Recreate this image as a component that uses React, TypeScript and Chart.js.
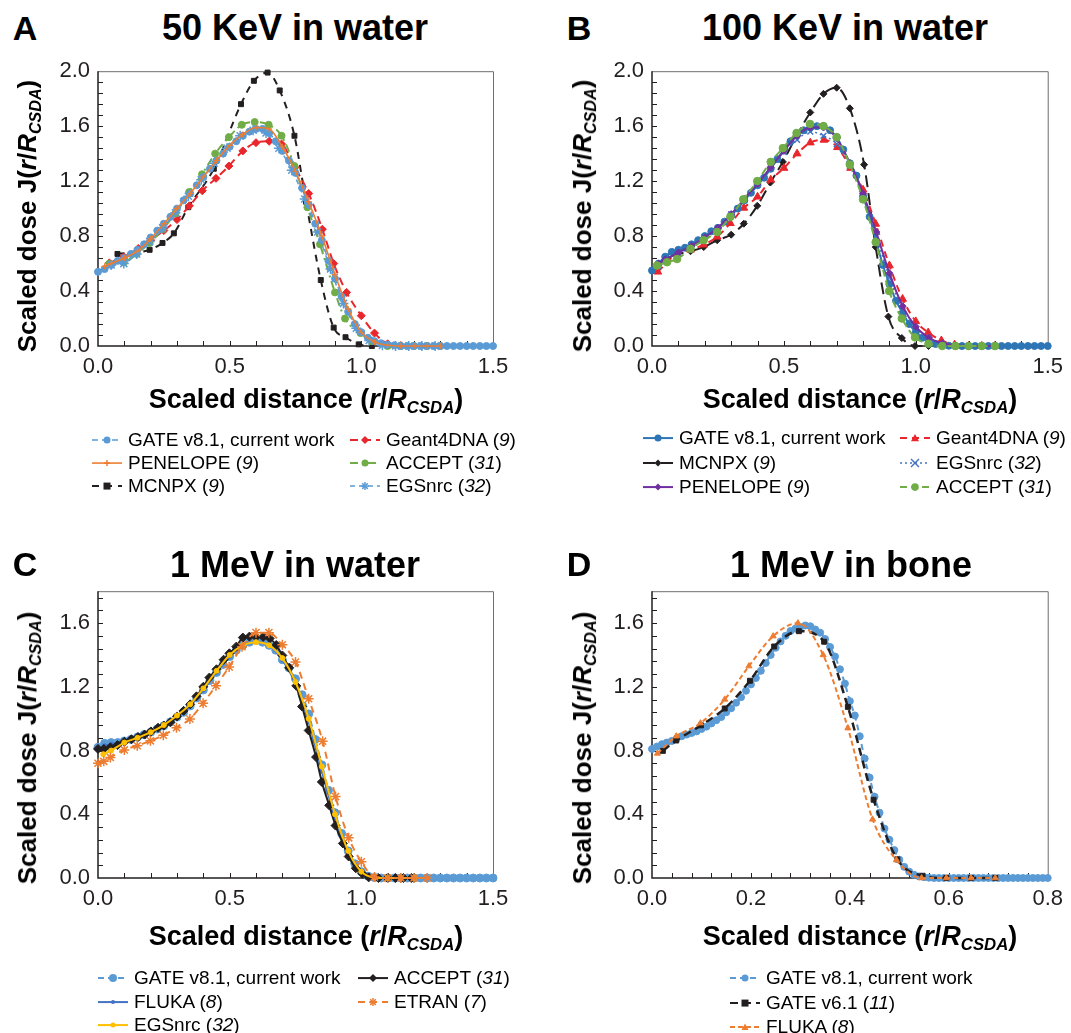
import React, { useEffect, useRef } from "react";
import { Chart, registerables } from "chart.js";

Chart.register(...registerables);

const FONT = '"Liberation Sans", Arial, Helvetica, sans-serif';
const INK = "#231F20";

// ---------- tick labels ----------
const X_TICKS_WATER = [0, 0.5, 1.0, 1.5];
const X_TICKS_BONE = [0, 0.2, 0.4, 0.6, 0.8];
const Y_TICKS_KEV = [0, 0.4, 0.8, 1.2, 1.6, 2.0];
const Y_TICKS_MEV = [0, 0.4, 0.8, 1.2, 1.6];

// ---------- shared x grids ----------
const X_DENSE_15 = [0, 0.025, 0.05, 0.075, 0.1, 0.125, 0.15, 0.175, 0.2, 0.225, 0.25, 0.275, 0.3, 0.325, 0.35, 0.375, 0.4, 0.425, 0.45, 0.475, 0.5, 0.525, 0.55, 0.575, 0.6, 0.625, 0.65, 0.675, 0.7, 0.725, 0.75, 0.775, 0.8, 0.825, 0.85, 0.875, 0.9, 0.925, 0.95, 0.975, 1.0, 1.025, 1.05, 1.075, 1.1, 1.125, 1.15, 1.175, 1.2, 1.225, 1.25, 1.275, 1.3, 1.325, 1.35, 1.375, 1.4, 1.425, 1.45, 1.475, 1.5];
const X_DENSE_08 = [0, 0.01, 0.02, 0.03, 0.04, 0.05, 0.06, 0.07, 0.08, 0.09, 0.1, 0.11, 0.12, 0.13, 0.14, 0.15, 0.16, 0.17, 0.18, 0.19, 0.2, 0.21, 0.22, 0.23, 0.24, 0.25, 0.26, 0.27, 0.28, 0.29, 0.3, 0.31, 0.32, 0.33, 0.34, 0.35, 0.36, 0.37, 0.38, 0.39, 0.4, 0.41, 0.42, 0.43, 0.44, 0.45, 0.46, 0.47, 0.48, 0.49, 0.5, 0.51, 0.52, 0.53, 0.54, 0.55, 0.56, 0.57, 0.58, 0.59, 0.6, 0.61, 0.62, 0.63, 0.64, 0.65, 0.66, 0.67, 0.68, 0.69, 0.7, 0.71, 0.72, 0.73, 0.74, 0.75, 0.76, 0.77, 0.78, 0.79, 0.8];
const X_STEP05 = [0.025, 0.05, 0.1, 0.15, 0.2, 0.25, 0.3, 0.35, 0.4, 0.45, 0.5, 0.55, 0.6, 0.65, 0.7, 0.75, 0.8, 0.85, 0.9, 0.95, 1.0, 1.05, 1.1, 1.15, 1.2, 1.25, 1.3];

// ---------- Panel A: 50 keV in water ----------
const A_GATE_Y = [0.54, 0.56, 0.59, 0.62, 0.64, 0.67, 0.70, 0.74, 0.79, 0.84, 0.89, 0.94, 1.00, 1.06, 1.11, 1.17, 1.23, 1.29, 1.35, 1.40, 1.45, 1.49, 1.53, 1.56, 1.58, 1.58, 1.55, 1.49, 1.42, 1.35, 1.26, 1.15, 1.03, 0.89, 0.77, 0.62, 0.49, 0.36, 0.25, 0.16, 0.10, 0.06, 0.035, 0.02, 0.01, 0.005, 0, 0, 0, 0, 0, 0, 0, 0, 0, 0, 0, 0, 0, 0, 0];
const A_PEN_Y = [0.58, 0.60, 0.64, 0.69, 0.78, 0.89, 1.00, 1.11, 1.23, 1.35, 1.46, 1.54, 1.59, 1.58, 1.45, 1.27, 1.05, 0.80, 0.52, 0.27, 0.10, 0.03, 0.005, 0, 0, 0, 0];
const A_MCNPX_X = [0.074, 0.196, 0.245, 0.288, 0.343, 0.44, 0.543, 0.592, 0.644, 0.69, 0.746, 0.79, 0.846, 0.895, 0.94, 0.99, 1.04];
const A_MCNPX_Y = [0.67, 0.70, 0.75, 0.82, 1.01, 1.29, 1.76, 1.93, 1.99, 1.86, 1.53, 1.05, 0.48, 0.134, 0.064, 0.012, 0];
const A_G4_X = [0.043, 0.098, 0.153, 0.20, 0.25, 0.30, 0.347, 0.396, 0.448, 0.497, 0.55, 0.60, 0.65, 0.697, 0.748, 0.80, 0.852, 0.895, 0.944, 1.0, 1.05, 1.10, 1.15, 1.2, 1.25, 1.3];
const A_G4_Y = [0.605, 0.65, 0.71, 0.77, 0.84, 0.92, 1.02, 1.13, 1.22, 1.31, 1.42, 1.48, 1.49, 1.47, 1.30, 1.11, 0.85, 0.60, 0.39, 0.22, 0.094, 0.016, 0.003, 0, 0, 0];
const A_ACC_X = [0.043, 0.098, 0.147, 0.196, 0.245, 0.294, 0.346, 0.395, 0.445, 0.497, 0.546, 0.595, 0.648, 0.697, 0.746, 0.795, 0.843, 0.90, 0.938, 0.997, 1.04, 1.10, 1.15, 1.2, 1.25, 1.3];
const A_ACC_Y = [0.60, 0.61, 0.67, 0.75, 0.85, 0.965, 1.12, 1.25, 1.40, 1.52, 1.61, 1.63, 1.61, 1.53, 1.31, 1.01, 0.74, 0.39, 0.20, 0.094, 0.035, 0, 0, 0, 0, 0];
const A_EGS_X = [0.05, 0.098, 0.147, 0.196, 0.245, 0.294, 0.343, 0.392, 0.441, 0.49, 0.54, 0.589, 0.638, 0.687, 0.736, 0.785, 0.834, 0.883, 0.932, 0.981, 1.03, 1.08, 1.13, 1.18, 1.23, 1.28];
const A_EGS_Y = [0.59, 0.60, 0.67, 0.76, 0.86, 0.97, 1.09, 1.21, 1.33, 1.44, 1.53, 1.57, 1.55, 1.44, 1.28, 1.07, 0.83, 0.56, 0.31, 0.13, 0.04, 0.005, 0, 0, 0, 0];

// ---------- Panel B: 100 keV in water ----------
const B_GATE_Y = [0.55, 0.60, 0.65, 0.685, 0.70, 0.715, 0.74, 0.77, 0.80, 0.835, 0.86, 0.905, 0.95, 1.00, 1.06, 1.115, 1.17, 1.225, 1.29, 1.36, 1.43, 1.49, 1.54, 1.57, 1.59, 1.60, 1.60, 1.57, 1.52, 1.43, 1.33, 1.24, 1.09, 0.94, 0.76, 0.59, 0.45, 0.33, 0.24, 0.16, 0.10, 0.06, 0.033, 0.015, 0.006, 0.002, 0, 0, 0, 0, 0, 0, 0, 0, 0, 0, 0, 0, 0, 0, 0];
const B_MCNPX_X = [0.02, 0.06, 0.095, 0.146, 0.196, 0.247, 0.30, 0.348, 0.399, 0.449, 0.496, 0.548, 0.60, 0.65, 0.70, 0.75, 0.804, 0.848, 0.896, 0.947, 0.997, 1.048];
const B_MCNPX_Y = [0.58, 0.64, 0.667, 0.69, 0.72, 0.77, 0.81, 0.89, 1.02, 1.19, 1.34, 1.53, 1.70, 1.835, 1.88, 1.73, 1.32, 0.72, 0.214, 0.058, 0, 0];
const B_G4_X = [0.022, 0.095, 0.146, 0.196, 0.247, 0.297, 0.348, 0.40, 0.45, 0.50, 0.55, 0.60, 0.652, 0.703, 0.753, 0.80, 0.848, 0.90, 0.95, 1.0, 1.047, 1.097, 1.147, 1.2, 1.25, 1.3];
const B_G4_Y = [0.54, 0.672, 0.70, 0.737, 0.795, 0.893, 1.005, 1.086, 1.21, 1.295, 1.40, 1.48, 1.50, 1.446, 1.295, 1.137, 0.888, 0.586, 0.342, 0.179, 0.098, 0.04, 0.01, 0, 0, 0];
const B_PEN_Y = [0.60, 0.63, 0.68, 0.73, 0.79, 0.86, 0.96, 1.07, 1.18, 1.30, 1.42, 1.53, 1.59, 1.59, 1.51, 1.33, 1.11, 0.83, 0.53, 0.29, 0.14, 0.06, 0.02, 0.005, 0, 0, 0];
const B_EGS_Y = [0.58, 0.62, 0.68, 0.73, 0.79, 0.86, 0.96, 1.07, 1.18, 1.30, 1.41, 1.50, 1.56, 1.53, 1.47, 1.31, 1.09, 0.80, 0.50, 0.26, 0.11, 0.04, 0.01, 0, 0, 0, 0];
const B_ACC_X = [0.019, 0.057, 0.095, 0.146, 0.196, 0.247, 0.297, 0.346, 0.399, 0.45, 0.496, 0.548, 0.599, 0.65, 0.70, 0.75, 0.80, 0.848, 0.899, 0.947, 0.997, 1.048, 1.1, 1.15, 1.2, 1.25, 1.3];
const B_ACC_Y = [0.586, 0.61, 0.633, 0.707, 0.77, 0.83, 0.94, 1.067, 1.20, 1.34, 1.44, 1.55, 1.616, 1.60, 1.52, 1.32, 1.067, 0.756, 0.40, 0.20, 0.063, 0.016, 0, 0, 0, 0, 0];

// ---------- Panel C: 1 MeV in water ----------
const C_GATE_Y = [0.82, 0.845, 0.85, 0.85, 0.86, 0.87, 0.885, 0.90, 0.915, 0.935, 0.955, 0.98, 1.01, 1.04, 1.08, 1.13, 1.18, 1.24, 1.29, 1.34, 1.39, 1.43, 1.46, 1.48, 1.49, 1.48, 1.46, 1.43, 1.37, 1.32, 1.25, 1.15, 1.03, 0.87, 0.71, 0.55, 0.41, 0.28, 0.17, 0.09, 0.04, 0.012, 0.003, 0, 0, 0, 0, 0, 0, 0, 0, 0, 0, 0, 0, 0, 0, 0, 0, 0, 0];
const C_FLUKA_X = [0.025, 0.05, 0.1, 0.15, 0.2, 0.25, 0.3, 0.35, 0.4, 0.45, 0.5, 0.55, 0.6, 0.65, 0.7, 0.75, 0.8, 0.85, 0.9, 0.95, 1.0, 1.05, 1.1, 1.15, 1.2];
const C_FLUKA_Y = [0.83, 0.84, 0.86, 0.885, 0.915, 0.955, 1.01, 1.08, 1.18, 1.29, 1.39, 1.46, 1.48, 1.46, 1.37, 1.22, 0.98, 0.67, 0.38, 0.15, 0.035, 0.003, 0, 0, 0];
const C_EGS_X = [0.02, 0.05, 0.1, 0.15, 0.2, 0.25, 0.3, 0.35, 0.4, 0.45, 0.5, 0.55, 0.6, 0.65, 0.7, 0.75, 0.8, 0.85, 0.9, 0.95, 1.0, 1.05, 1.1, 1.15, 1.2];
const C_EGS_Y = [0.777, 0.80, 0.85, 0.88, 0.915, 0.96, 1.02, 1.09, 1.19, 1.30, 1.40, 1.46, 1.48, 1.46, 1.38, 1.23, 1.00, 0.70, 0.40, 0.17, 0.04, 0.003, 0, 0, 0];
const C_ACC_X = [0, 0.022, 0.047, 0.074, 0.1, 0.127, 0.152, 0.177, 0.201, 0.228, 0.25, 0.275, 0.30, 0.325, 0.35, 0.374, 0.40, 0.423, 0.45, 0.477, 0.499, 0.525, 0.55, 0.575, 0.60, 0.627, 0.652, 0.677, 0.70, 0.726, 0.753, 0.775, 0.80, 0.828, 0.85, 0.878, 0.902, 0.93, 0.952, 0.979, 1.004, 1.028, 1.065, 1.10, 1.13, 1.16, 1.19];
const C_ACC_Y = [0.81, 0.81, 0.82, 0.834, 0.855, 0.871, 0.885, 0.90, 0.92, 0.943, 0.957, 0.977, 1.014, 1.049, 1.09, 1.14, 1.20, 1.258, 1.31, 1.37, 1.41, 1.452, 1.509, 1.515, 1.513, 1.513, 1.503, 1.462, 1.397, 1.319, 1.206, 1.076, 0.926, 0.759, 0.603, 0.456, 0.329, 0.217, 0.135, 0.061, 0.027, 0.004, 0, 0, 0, 0, 0];
const C_ETRAN_X = [0, 0.022, 0.047, 0.1, 0.149, 0.199, 0.248, 0.298, 0.349, 0.399, 0.448, 0.498, 0.547, 0.60, 0.649, 0.70, 0.75, 0.80, 0.853, 0.902, 0.952, 1.0, 1.05, 1.1, 1.15, 1.2, 1.25];
const C_ETRAN_Y = [0.72, 0.732, 0.757, 0.804, 0.83, 0.861, 0.896, 0.943, 0.998, 1.096, 1.207, 1.325, 1.452, 1.54, 1.54, 1.464, 1.356, 1.125, 0.859, 0.511, 0.252, 0.102, 0.006, 0, 0, 0, 0];

// ---------- Panel D: 1 MeV in bone ----------
const D_GATE_Y = [0.81, 0.825, 0.84, 0.85, 0.86, 0.875, 0.89, 0.90, 0.91, 0.92, 0.935, 0.95, 0.97, 0.99, 1.01, 1.04, 1.065, 1.10, 1.135, 1.175, 1.215, 1.255, 1.30, 1.35, 1.40, 1.445, 1.485, 1.52, 1.55, 1.565, 1.575, 1.585, 1.58, 1.56, 1.54, 1.50, 1.45, 1.39, 1.31, 1.22, 1.11, 1.02, 0.89, 0.75, 0.63, 0.51, 0.41, 0.31, 0.24, 0.175, 0.115, 0.07, 0.04, 0.02, 0.01, 0.005, 0.002, 0, 0, 0, 0, 0, 0, 0, 0, 0, 0, 0, 0, 0, 0, 0, 0, 0, 0, 0, 0, 0, 0, 0, 0];
const D_V61_X = [0.022, 0.049, 0.099, 0.147, 0.198, 0.247, 0.297, 0.348, 0.396, 0.448, 0.496, 0.547, 0.595, 0.645, 0.694];
const D_V61_Y = [0.798, 0.863, 0.958, 1.064, 1.238, 1.453, 1.549, 1.483, 1.074, 0.491, 0.117, 0.014, 0, 0, 0];
const D_FLUKA_X = [0.011, 0.049, 0.098, 0.147, 0.196, 0.245, 0.295, 0.346, 0.396, 0.446, 0.494, 0.545, 0.595, 0.645, 0.694];
const D_FLUKA_Y = [0.782, 0.89, 0.972, 1.121, 1.33, 1.518, 1.60, 1.40, 0.941, 0.368, 0.113, 0, 0, 0, 0];

// ---------- styles ----------
const C_LIGHT = "#5B9BD5";
const C_BLUE = "#2E75B6";
const C_MID = "#4472C4";
const C_ORANGE = "#ED7D31";
const C_RED = "#E8262B";
const C_GREEN = "#70AD47";
const C_PURPLE = "#7030A0";
const C_GOLD = "#FFC000";
const C_BLACK = "#231F20";

type Series = {
  id: string; name: string; ref?: string; xs: number[]; ys: number[];
  color: string; width: number; dash: number[]; point: string; radius: number; pbw?: number;
};

// listed bottom -> top
const SERIES_A: Series[] = [
  { id: "mcnpx", name: "MCNPX", ref: "9", xs: A_MCNPX_X, ys: A_MCNPX_Y, color: C_BLACK, width: 2, dash: [7, 6], point: "rect", radius: 3.5 },
  { id: "g4", name: "Geant4DNA", ref: "9", xs: A_G4_X, ys: A_G4_Y, color: C_RED, width: 2, dash: [8, 5], point: "rectRot", radius: 4 },
  { id: "accept", name: "ACCEPT", ref: "31", xs: A_ACC_X, ys: A_ACC_Y, color: C_GREEN, width: 2, dash: [8, 4, 2, 4], point: "circle", radius: 3.5 },
  { id: "egs", name: "EGSnrc", ref: "32", xs: A_EGS_X, ys: A_EGS_Y, color: C_LIGHT, width: 1.5, dash: [5, 4], point: "star", radius: 5, pbw: 1.5 },
  { id: "gate", name: "GATE v8.1, current work", xs: X_DENSE_15, ys: A_GATE_Y, color: C_LIGHT, width: 1.5, dash: [6, 4], point: "circle", radius: 3.5 },
  { id: "pen", name: "PENELOPE", ref: "9", xs: X_STEP05, ys: A_PEN_Y, color: C_ORANGE, width: 1.6, dash: [], point: "cross", radius: 3, pbw: 1.2 },
];

const SERIES_B: Series[] = [
  { id: "mcnpx", name: "MCNPX", ref: "9", xs: B_MCNPX_X, ys: B_MCNPX_Y, color: C_BLACK, width: 2, dash: [12, 6], point: "rectRot", radius: 3.5 },
  { id: "g4", name: "Geant4DNA", ref: "9", xs: B_G4_X, ys: B_G4_Y, color: C_RED, width: 2, dash: [7, 5], point: "triangle", radius: 4.5 },
  { id: "egs", name: "EGSnrc", ref: "32", xs: X_STEP05, ys: B_EGS_Y, color: C_MID, width: 1.5, dash: [2, 3], point: "crossRot", radius: 4, pbw: 1.5 },
  { id: "gate", name: "GATE v8.1, current work", xs: X_DENSE_15, ys: B_GATE_Y, color: C_BLUE, width: 2, dash: [], point: "circle", radius: 3.5 },
  { id: "pen", name: "PENELOPE", ref: "9", xs: X_STEP05, ys: B_PEN_Y, color: C_PURPLE, width: 2, dash: [], point: "rectRot", radius: 3.5 },
  { id: "accept", name: "ACCEPT", ref: "31", xs: B_ACC_X, ys: B_ACC_Y, color: C_GREEN, width: 2, dash: [7, 4], point: "circle", radius: 3.8 },
];

const SERIES_C: Series[] = [
  { id: "gate", name: "GATE v8.1, current work", xs: X_DENSE_15, ys: C_GATE_Y, color: C_LIGHT, width: 2, dash: [6, 4], point: "circle", radius: 4 },
  { id: "fluka", name: "FLUKA", ref: "8", xs: C_FLUKA_X, ys: C_FLUKA_Y, color: C_MID, width: 2, dash: [], point: "circle", radius: 2 },
  { id: "accept", name: "ACCEPT", ref: "31", xs: C_ACC_X, ys: C_ACC_Y, color: C_BLACK, width: 2, dash: [], point: "rectRot", radius: 4.5 },
  { id: "egs", name: "EGSnrc", ref: "32", xs: C_EGS_X, ys: C_EGS_Y, color: C_GOLD, width: 2, dash: [], point: "circle", radius: 2.5 },
  { id: "etran", name: "ETRAN", ref: "7", xs: C_ETRAN_X, ys: C_ETRAN_Y, color: C_ORANGE, width: 2, dash: [7, 5], point: "star", radius: 5, pbw: 1.5 },
];

const SERIES_D: Series[] = [
  { id: "gate", name: "GATE v8.1, current work", xs: X_DENSE_08, ys: D_GATE_Y, color: C_LIGHT, width: 2, dash: [6, 4], point: "circle", radius: 3.5 },
  { id: "v61", name: "GATE v6.1", ref: "11", xs: D_V61_X, ys: D_V61_Y, color: C_BLACK, width: 2.5, dash: [8, 5], point: "rect", radius: 3.5 },
  { id: "fluka", name: "FLUKA", ref: "8", xs: D_FLUKA_X, ys: D_FLUKA_Y, color: C_ORANGE, width: 2, dash: [5, 3], point: "triangle", radius: 3.5 },
];

const PANELS = [
  {
    key: "A", title: "50 KeV in water", letterPos: [25, 29], titlePos: [295, 28], yTitlePos: [28, 216], xTitlePos: [306, 400],
    canvas: { left: 40, top: 50, width: 510, height: 370 }, area: { left: 98, top: 63, right: 493, bottom: 346 },
    xMax: 1.5, xTicks: X_TICKS_WATER, xMinor: 0.1, yMax: 2.0, yTicks: Y_TICKS_KEV, yMinor: 0.08, series: SERIES_A,
    legend: { rows: [440, 463, 486], cols: [{ x: 92, ids: ["gate", "pen", "mcnpx"] }, { x: 350, ids: ["g4", "accept", "egs"] }] },
  },
  {
    key: "B", title: "100 KeV in water", letterPos: [579, 29], titlePos: [845, 28], yTitlePos: [583, 216], xTitlePos: [860, 400],
    canvas: { left: 594, top: 50, width: 477, height: 370 }, area: { left: 652, top: 63, right: 1050, bottom: 346 },
    xMax: 1.5, xTicks: X_TICKS_WATER, xMinor: 0.1, yMax: 2.0, yTicks: Y_TICKS_KEV, yMinor: 0.08, series: SERIES_B,
    legend: { rows: [438, 463, 487], cols: [{ x: 643, ids: ["gate", "mcnpx", "pen"] }, { x: 900, ids: ["g4", "egs", "accept"] }] },
  },
  {
    key: "C", title: "1 MeV in water", letterPos: [25, 565], titlePos: [295, 565], yTitlePos: [28, 748], xTitlePos: [306, 937],
    canvas: { left: 40, top: 570, width: 510, height: 380 }, area: { left: 98, top: 583, right: 493, bottom: 878 },
    xMax: 1.5, xTicks: X_TICKS_WATER, xMinor: 0.1, yMax: 1.8, yTicks: Y_TICKS_MEV, yMinor: 0.08, series: SERIES_C,
    legend: { rows: [978, 1002, 1025], cols: [{ x: 98, ids: ["gate", "fluka", "egs"] }, { x: 358, ids: ["accept", "etran"] }] },
  },
  {
    key: "D", title: "1 MeV in bone", letterPos: [579, 565], titlePos: [851, 565], yTitlePos: [583, 748], xTitlePos: [860, 937],
    canvas: { left: 594, top: 570, width: 477, height: 380 }, area: { left: 652, top: 583, right: 1050, bottom: 878 },
    xMax: 0.8, xTicks: X_TICKS_BONE, xMinor: 0.04, yMax: 1.8, yTicks: Y_TICKS_MEV, yMinor: 0.08, series: SERIES_D,
    legend: { rows: [978, 1003, 1027], cols: [{ x: 730, ids: ["gate", "v61", "fluka"] }] },
  },
];

function makeFramePlugin(p: any) {
  return {
    id: "frame" + p.key,
    beforeDatasetsDraw(chart: any) {
      const { ctx, chartArea: ca } = chart;
      const xs = chart.scales.x;
      const ys = chart.scales.y;
      ctx.save();
      ctx.strokeStyle = "#6d6e71";
      ctx.lineWidth = 1;
      ctx.beginPath();
      ctx.moveTo(ca.left, ca.top + 0.5);
      ctx.lineTo(ca.right + 0.5, ca.top + 0.5);
      ctx.lineTo(ca.right + 0.5, ca.bottom);
      ctx.stroke();
      ctx.strokeStyle = INK;
      ctx.lineWidth = 1.5;
      ctx.beginPath();
      ctx.moveTo(ca.left, ca.top);
      ctx.lineTo(ca.left, ca.bottom);
      ctx.lineTo(ca.right, ca.bottom);
      ctx.stroke();
      ctx.lineWidth = 1;
      ctx.beginPath();
      const nx = Math.round(p.xMax / p.xMinor);
      for (let i = 1; i < nx; i++) {
        const px = Math.round(xs.getPixelForValue(i * p.xMinor)) + 0.5;
        ctx.moveTo(px, ca.bottom);
        ctx.lineTo(px, ca.bottom - 5);
      }
      const ny = Math.floor(p.yMax / p.yMinor + 1e-6);
      for (let i = 1; i <= ny; i++) {
        const v = i * p.yMinor;
        if (v >= p.yMax - 1e-6) continue;
        const py = Math.round(ys.getPixelForValue(v)) + 0.5;
        ctx.moveTo(ca.left, py);
        ctx.lineTo(ca.left + 5, py);
      }
      ctx.stroke();
      ctx.restore();
    },
  };
}

function PanelChart({ p }: { p: any }) {
  const ref = useRef<HTMLCanvasElement>(null);
  const c = p.canvas;
  const a = p.area;
  useEffect(() => {
    const tickFont = { family: FONT, size: 22 };
    const chart = new Chart(ref.current as HTMLCanvasElement, {
      type: "line",
      data: {
        datasets: (p.series as Series[]).slice().reverse().map((s) => ({
          label: s.name,
          data: s.xs.map((x, i) => ({ x, y: s.ys[i] })),
          borderColor: s.color,
          backgroundColor: s.color,
          pointBackgroundColor: s.color,
          pointBorderColor: s.color,
          pointBorderWidth: s.pbw ?? 1,
          borderWidth: s.width,
          borderDash: s.dash,
          pointStyle: s.point as any,
          pointRadius: s.radius,
          tension: 0.4,
          cubicInterpolationMode: "monotone",
          fill: false,
          clip: false as any,
        })),
      },
      options: {
        animation: false,
        responsive: false,
        maintainAspectRatio: false,
        events: [],
        layout: { padding: { left: 0, top: a.top - c.top, right: c.left + c.width - a.right, bottom: 0 } },
        plugins: { legend: { display: false }, tooltip: { enabled: false }, title: { display: false } },
        scales: {
          x: {
            type: "linear", min: 0, max: p.xMax,
            grid: { display: false, drawTicks: false },
            border: { display: false },
            afterBuildTicks: (sc: any) => { sc.ticks = p.xTicks.map((v: number) => ({ value: v })); },
            afterFit: (sc: any) => { sc.height = c.top + c.height - a.bottom; },
            ticks: { font: tickFont, color: INK, padding: 8, maxRotation: 0, autoSkip: false, callback: (v: any) => Number(v).toFixed(1) },
          },
          y: {
            type: "linear", min: 0, max: p.yMax,
            grid: { display: false, drawTicks: false },
            border: { display: false },
            afterBuildTicks: (sc: any) => { sc.ticks = p.yTicks.map((v: number) => ({ value: v })); },
            afterFit: (sc: any) => { sc.width = a.left - c.left; },
            ticks: { font: tickFont, color: INK, padding: 8, autoSkip: false, callback: (v: any) => Number(v).toFixed(1) },
          },
        },
      } as any,
      plugins: [makeFramePlugin(p)],
    });
    return () => chart.destroy();
  }, []);
  return (
    <canvas ref={ref} width={c.width} height={c.height}
      style={{ position: "absolute", left: c.left, top: c.top, width: c.width, height: c.height }} />
  );
}

function Sub({ children }: any) {
  return <span style={{ fontSize: "0.62em", position: "relative", top: "0.28em", fontStyle: "italic" }}>{children}</span>;
}

function Txt({ x, y, size, bold, rotate, children }: any) {
  return (
    <div style={{
      position: "absolute", left: x, top: y, fontSize: size, fontWeight: bold ? 700 : 400,
      transform: `translate(-50%,-50%)${rotate ? " rotate(-90deg)" : ""}`, whiteSpace: "nowrap",
      lineHeight: 1.15, fontFamily: FONT, color: "#000",
    }}>{children}</div>
  );
}

function Marker({ shape, color, r, cx, cy }: any) {
  const sw = 1.5;
  switch (shape) {
    case "rect":
      return <rect x={cx - r} y={cy - r} width={2 * r} height={2 * r} fill={color} />;
    case "rectRot":
      return <polygon points={`${cx},${cy - r} ${cx + r},${cy} ${cx},${cy + r} ${cx - r},${cy}`} fill={color} />;
    case "triangle":
      return <polygon points={`${cx},${cy - r} ${cx + r},${cy + r * 0.8} ${cx - r},${cy + r * 0.8}`} fill={color} />;
    case "cross":
      return <g stroke={color} strokeWidth={sw}><line x1={cx - r} y1={cy} x2={cx + r} y2={cy} /><line x1={cx} y1={cy - r} x2={cx} y2={cy + r} /></g>;
    case "crossRot":
      return <g stroke={color} strokeWidth={sw}><line x1={cx - r} y1={cy - r} x2={cx + r} y2={cy + r} /><line x1={cx - r} y1={cy + r} x2={cx + r} y2={cy - r} /></g>;
    case "star":
      return <g stroke={color} strokeWidth={sw}><line x1={cx - r} y1={cy} x2={cx + r} y2={cy} /><line x1={cx} y1={cy - r} x2={cx} y2={cy + r} /><line x1={cx - r * 0.7} y1={cy - r * 0.7} x2={cx + r * 0.7} y2={cy + r * 0.7} /><line x1={cx - r * 0.7} y1={cy + r * 0.7} x2={cx + r * 0.7} y2={cy - r * 0.7} /></g>;
    default:
      return <circle cx={cx} cy={cy} r={r} fill={color} />;
  }
}

function LegendItem({ s, x, y }: { s: Series; x: number; y: number }) {
  const w = 30, h = 16;
  return (
    <div style={{ position: "absolute", left: x, top: y, transform: "translateY(-50%)", display: "flex", alignItems: "center", whiteSpace: "nowrap" }}>
      <svg width={w} height={h} style={{ display: "block" }}>
        <line x1={0} y1={h / 2} x2={w} y2={h / 2} stroke={s.color} strokeWidth={Math.min(s.width, 2)}
          strokeDasharray={s.dash.length ? s.dash.join(" ") : undefined} />
        <Marker shape={s.point} color={s.color} r={Math.min(s.radius, 4)} cx={w / 2} cy={h / 2} />
      </svg>
      <span style={{ marginLeft: 6, fontSize: 19, fontFamily: FONT, color: "#000", lineHeight: 1.15 }}>
        {s.name}{s.ref ? <> (<i>{s.ref}</i>)</> : null}
      </span>
    </div>
  );
}

const XTitle = () => (<>Scaled distance (<i>r</i>/<i>R</i><Sub>CSDA</Sub>)</>);
const YTitle = () => (<>Scaled dose J(<i>r</i>/<i>R</i><Sub>CSDA</Sub>)</>);

function Panel({ p }: { p: any }) {
  const byId: Record<string, Series> = {};
  (p.series as Series[]).forEach((s) => { byId[s.id] = s; });
  return (
    <>
      <PanelChart p={p} />
      <Txt x={p.letterPos[0]} y={p.letterPos[1]} size={34} bold>{p.key}</Txt>
      <Txt x={p.titlePos[0]} y={p.titlePos[1]} size={36} bold>{p.title}</Txt>
      <Txt x={p.yTitlePos[0]} y={p.yTitlePos[1]} size={26} bold rotate><YTitle /></Txt>
      <Txt x={p.xTitlePos[0]} y={p.xTitlePos[1]} size={27} bold><XTitle /></Txt>
      {p.legend.cols.map((col: any, ci: number) =>
        col.ids.map((id: string, ri: number) => (
          <LegendItem key={p.key + ci + id} s={byId[id]} x={col.x} y={p.legend.rows[ri]} />
        ))
      )}
    </>
  );
}

export default function App() {
  return (
    <div style={{ position: "absolute", left: 0, top: 0, width: 1071, height: 1033, overflow: "hidden", background: "#fff", fontFamily: FONT }}>
      {PANELS.map((p) => <Panel key={p.key} p={p} />)}
    </div>
  );
}
